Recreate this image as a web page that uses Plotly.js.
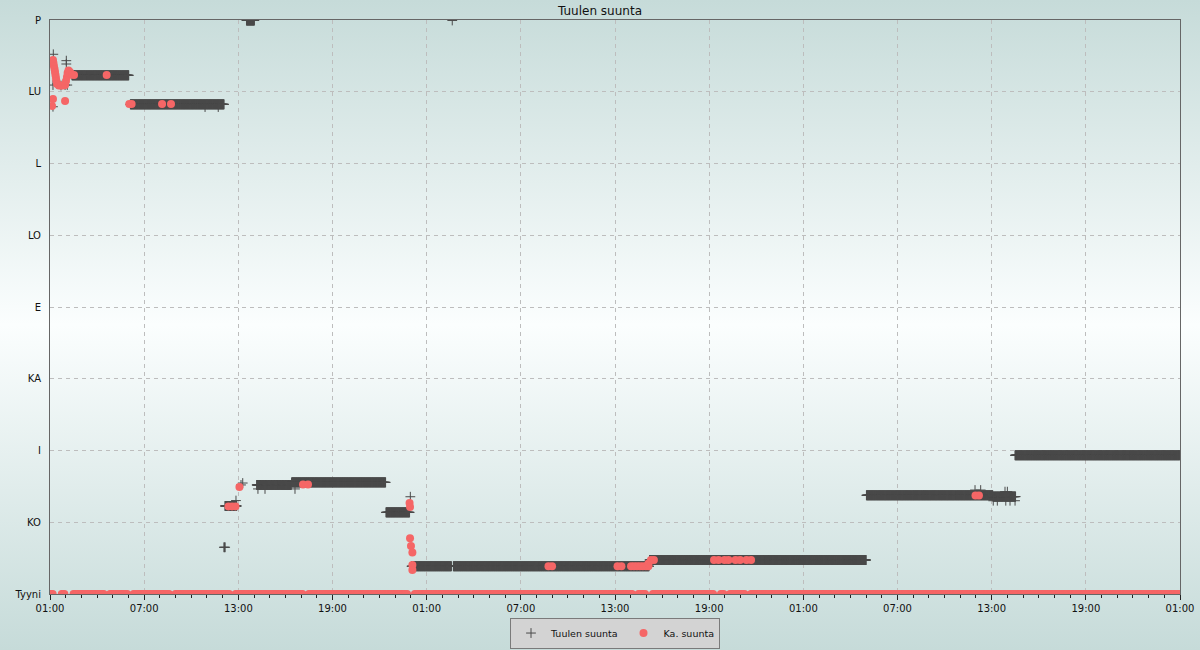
<!DOCTYPE html>
<html>
<head>
<meta charset="utf-8">
<script src="https://cdn.plot.ly/plotly-3.0.1.min.js"></script>
<style>
html,body{margin:0;padding:0;}
#chart{width:1200px;height:650px;background:linear-gradient(to bottom,#c6dbd9 0%,#fbfefe 50%,#c6dbd9 100%);}
</style>
</head>
<body>
<div id="chart"></div>
<script>
// ---- axis definitions ----
const startTime = Date.UTC(2024, 0, 1, 1, 0);   // first tick 01:00
const spanHours = 72;
const directionTicks = [0, 45, 90, 135, 180, 225, 270, 315, 360];
const directionLabels = ['Tyyni', 'KO', 'I', 'KA', 'E', 'LO', 'L', 'LU', 'P'];

// ---- Tuulen suunta: steady periods (hours from start, degrees) ----
const runStartH = [1.40, 5.12, 11.15, 12.52, 13.17, 15.40, 21.41, 23.04, 25.70, 38.20, 52.02, 60.09, 61.49];
const runEndH   = [5.03, 11.09, 11.90, 13.03, 15.38, 21.39, 22.92, 25.58, 38.17, 52.00, 60.07, 61.53, 72.00];
const runDeg    = [325.3, 307.1, 55.2, 359.7, 68.4, 70.0, 51.2, 17.4, 17.4, 21.3, 61.9, 61.1, 87.0];
const sampleMinutes = 1;

// ---- Tuulen suunta: individual readings ----
const singleH   = [0.21, 0.19, 0.19, 1.04, 1.04, 1.10, 0.45, 0.70, 0.96, 1.25,
                   9.88, 10.72, 11.08, 11.12, 11.16, 11.85, 12.17, 12.28,
                   13.25, 13.70, 15.61, 22.96, 25.63,
                   58.94, 59.30, 60.85, 61.00, 60.10, 60.36, 60.90, 61.17, 61.49];
const singleDeg = [338.5, 319.2, 305.6, 334.5, 332.4, 319.2, 319.9, 318.9, 319.2, 327.0,
                   305.4, 305.4, 29.3, 29.3, 29.3, 58.6, 68.4, 69.6,
                   65.9, 65.9, 65.9, 61.0, 359.7,
                   65.2, 65.2, 64.2, 64.2, 58.5, 58.5, 58.5, 58.5, 58.5];

// ---- Ka. suunta: readings above calm ----
const kaH   = [0.19, 0.22, 0.25, 0.29, 0.32, 0.35, 0.38, 0.41, 0.45, 0.57, 0.70, 0.83, 0.96,
               1.02, 1.08, 1.12, 1.18, 1.27, 1.40, 1.53, 0.19, 0.13, 0.96,
               3.61, 5.05, 5.20, 7.14, 7.71,
               11.37, 11.60, 11.82, 12.07, 16.12, 16.44,
               22.91, 22.94, 22.94, 23.00, 23.09, 23.09, 23.09,
               31.76, 31.99, 36.16, 36.41,
               37.02, 37.21, 37.40, 37.59, 37.78, 37.97, 38.13, 38.13, 38.29, 38.48,
               42.31, 42.60, 42.98, 43.23, 43.68, 43.97, 44.38, 44.67,
               58.97, 59.19];
const kaDeg = [334.9, 333.0, 331.2, 329.3, 327.4, 325.5, 323.6, 321.8, 319.9, 318.9, 318.9, 318.9, 319.2,
               321.8, 324.3, 326.8, 328.3, 327.4, 325.8, 325.5, 310.5, 306.1, 309.2,
               325.5, 307.3, 307.3, 307.3, 307.3,
               54.9, 54.9, 54.9, 67.1, 68.7, 68.7,
               57.1, 54.6, 34.9, 30.1, 26.1, 18.2, 15.1,
               17.4, 17.4, 17.4, 17.4,
               17.4, 17.4, 17.4, 17.4, 17.4, 17.4, 17.4, 19.2, 21.3, 21.3,
               21.3, 21.3, 21.3, 21.3, 21.3, 21.3, 21.3, 21.3,
               61.8, 61.8];
// ---- Ka. suunta: calm (Tyyni) readings, missing in these periods ----
const kaCalmStepMinutes = 5;
const kaGapStartH = [0.25, 0.98, 3.45, 4.92, 7.59, 11.42, 16.13, 22.82, 37.10, 37.99, 42.32, 42.95, 44.30];
const kaGapEndH   = [0.72, 1.45, 3.81, 5.28, 7.95, 11.78, 16.49, 23.18, 37.46, 38.35, 42.68, 43.31, 44.66];

// ---- build traces ----
const toTime = h => startTime + h * 3600000;

const windX = [], windY = [];
for (let i = 0; i < runStartH.length; i++) {
  const step = sampleMinutes / 60;
  for (let t = runStartH[i]; t <= runEndH[i] + 1e-9; t += step) {
    windX.push(toTime(t)); windY.push(runDeg[i]);
  }
}
for (let i = 0; i < singleH.length; i++) { windX.push(toTime(singleH[i])); windY.push(singleDeg[i]); }

const kaX = [], kaY = [];
const calmStep = kaCalmStepMinutes / 60;
for (let t = 0; t <= spanHours + 1e-9; t += calmStep) {
  let inGap = false;
  for (let g = 0; g < kaGapStartH.length; g++) {
    if (t >= kaGapStartH[g] && t <= kaGapEndH[g]) { inGap = true; break; }
  }
  if (!inGap) { kaX.push(toTime(t)); kaY.push(0); }
}
for (let i = 0; i < kaH.length; i++) { kaX.push(toTime(kaH[i])); kaY.push(kaDeg[i]); }

const traces = [
  {
    type: 'scatter', mode: 'markers', name: 'Tuulen suunta',
    x: windX, y: windY,
    marker: { symbol: 'cross-thin', size: 7, color: '#4a4a4a', line: { color: '#4a4a4a', width: 1 } },
    hoverinfo: 'skip'
  },
  {
    type: 'scatter', mode: 'markers', name: 'Ka. suunta',
    x: kaX, y: kaY,
    marker: { symbol: 'circle', size: 8, color: '#f56666', line: { width: 0 } },
    hoverinfo: 'skip'
  }
];

const font = { family: 'DejaVu Sans, sans-serif', size: 10, color: '#111' };

const layout = {
  width: 1200, height: 650,
  paper_bgcolor: 'rgba(0,0,0,0)', plot_bgcolor: 'rgba(0,0,0,0)',
  margin: { l: 50, r: 20, t: 20, b: 56, pad: 0, autoexpand: false },
  font: font,
  title: { text: 'Tuulen suunta', x: 0.5, xanchor: 'center', y: 0.983, yref: 'container', yanchor: 'middle',
           font: { family: 'DejaVu Sans, sans-serif', size: 12, color: '#111' } },
  showlegend: true,
  legend: {
    orientation: 'h', x: 0.5, xanchor: 'center', y: -0.041, yanchor: 'top',
    bgcolor: '#d3d3d3', bordercolor: '#7a7a7a', borderwidth: 1,
    font: { family: 'DejaVu Sans, sans-serif', size: 9.5, color: '#111' },
    itemwidth: 30
  },
  xaxis: {
    type: 'date',
    range: [toTime(0), toTime(spanHours)],
    tick0: toTime(0), dtick: 6 * 3600000, tickformat: '%H:%M',
    ticks: 'outside', ticklen: 5, tickcolor: '#222', tickwidth: 1,
    minor: { dtick: 3600000, ticks: 'outside', ticklen: 3, tickcolor: '#222', showgrid: false },
    showgrid: true, gridcolor: '#bdbdbd', griddash: '4px,4px', gridwidth: 1,
    showline: true, linecolor: '#666', linewidth: 1, mirror: true,
    zeroline: false, fixedrange: true,
    tickfont: { family: 'DejaVu Sans, sans-serif', size: 10, color: '#111' }
  },
  yaxis: {
    range: [0, 360],
    tickmode: 'array', tickvals: directionTicks, ticktext: directionLabels,
    ticks: 'outside', ticklen: 6, tickcolor: 'rgba(0,0,0,0)',
    showgrid: true, gridcolor: '#bdbdbd', griddash: '4px,4px', gridwidth: 1,
    showline: true, linecolor: '#666', linewidth: 1, mirror: true,
    zeroline: false, fixedrange: true,
    tickfont: { family: 'DejaVu Sans, sans-serif', size: 10, color: '#111' }
  }
};

Plotly.newPlot('chart', traces, layout, { displayModeBar: false, staticPlot: true });
</script>
</body>
</html>
